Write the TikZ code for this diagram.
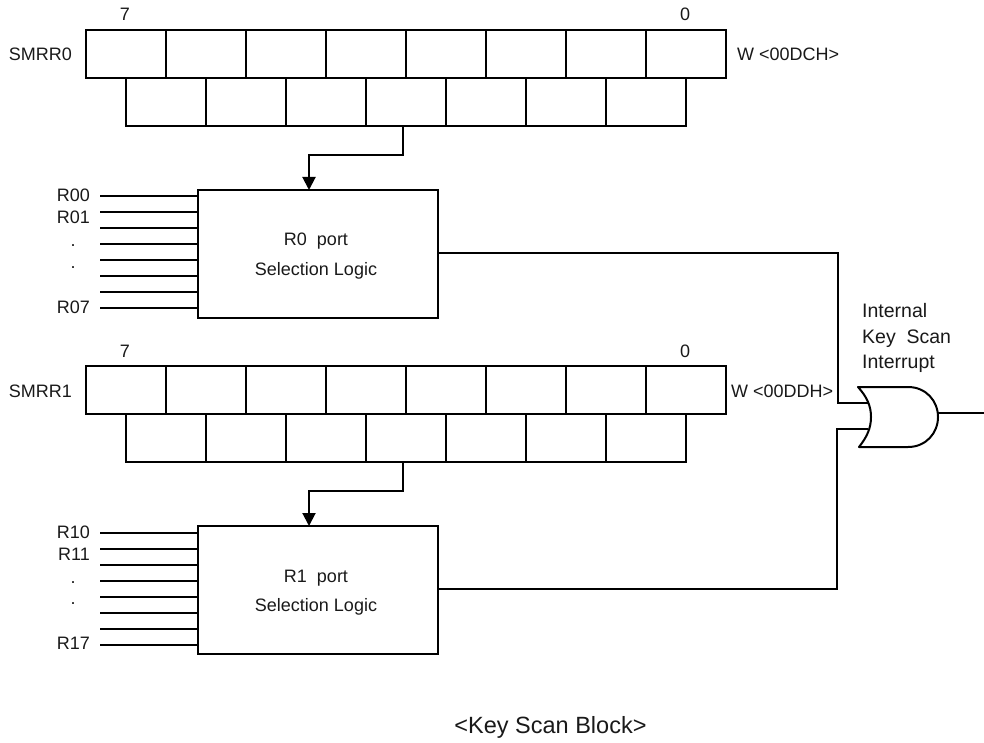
\documentclass[tikz,border=0pt]{standalone}
\usepackage{fontspec}
\setmainfont{Liberation Sans}
\usetikzlibrary{arrows.meta}
\tikzset{
  wire/.style={line width=2pt,line cap=butt,line join=miter},
  flow/.style={wire,-{Triangle[length=13pt,width=13pt]}},
  lbl/.style={inner sep=0pt,anchor=base,font=\fontsize{18}{18}\selectfont,text=black!90},
  regcell/.style={draw,line width=2pt,minimum width=80pt,minimum height=48pt,inner sep=0pt,outer sep=0pt},
  logicbox/.style={draw,line width=2pt,minimum width=240pt,minimum height=128pt,inner sep=0pt,outer sep=0pt}
}
\begin{document}
\begin{tikzpicture}[x=1pt,y=-1pt]
\useasboundingbox (0,0) rectangle (984,743);
\foreach \n/\yo/\lo in {0/0/0,1/336/337}{
  \foreach \i in {0,...,7}{
    \node[regcell] (u\n\i) at ({126+80*\i},{54+\yo}) {};
  }
  \foreach \i in {0,...,6}{
    \node[regcell] (l\n\i) at ({166+80*\i},{102+\yo}) {};
  }
  \node[lbl,anchor=base east] (name\n) at (72,{61+\yo}) {SMRR\n};
  \node[lbl] (hi\n) at (125,{21+\yo}) {7};
  \node[lbl] (lo\n) at (685,{21+\yo}) {0};
  \node[logicbox] (box\n) at (318,{254+\yo}) {};
  \node[lbl] (portname\n) at (316,{246+\yo}) {R\n\ \ port};
  \node[lbl] (portsel\n) at (316,{275+\yo}) {Selection Logic};
  \coordinate (bend\n) at (403,{155+\yo});
  \coordinate (corner\n) at (309,{155+\yo});
  \draw[flow] (l\n3.south -| bend\n) -- (bend\n) -- (corner\n) -- (corner\n |- box\n.north);
  \foreach \k in {0,...,7}{
    \coordinate (in\n\k) at (100,{196.3+16*\k+\lo});
    \draw[wire] (in\n\k) -- (in\n\k -| box\n.west);
  }
  \node[lbl,anchor=base east] (ra\n) at (90,{202+\yo}) {R\n0};
  \node[lbl,anchor=base east] (rb\n) at (90,{224+\yo}) {R\n1};
  \node[lbl] (da\n) at (73,{247+\yo}) {.};
  \node[lbl] (db\n) at (73,{268+\yo}) {.};
  \node[lbl,anchor=base east] (rc\n) at (90,{313+\yo}) {R\n7};
}
\node[lbl,anchor=base west] (addr0) at (737,61) {W <00DCH>};
\node[lbl,anchor=base west] (addr1) at (731,397) {W <00DDH>};
\node[lbl,anchor=base west,font=\fontsize{19.5}{19.5}\selectfont] (titlea) at (862,317) {Internal};
\node[lbl,anchor=base west,font=\fontsize{19.5}{19.5}\selectfont] (titleb) at (862,343) {Key\ \ Scan};
\node[lbl,anchor=base west,font=\fontsize{19.5}{19.5}\selectfont] (titlec) at (862,368) {Interrupt};
\node[lbl,font=\fontsize{23.5}{23.5}\selectfont] (cap) at (550.5,733) {<Key Scan Block>};
% OR gate
\coordinate (gtl) at (858,387);
\coordinate (gbl) at (859,447);
\draw[wire,line join=round] (gtl) .. controls (867,397) and (871,406) .. (871,417) .. controls (871,428) and (867,437) .. (gbl)
  -- (908,447) .. controls (926,447) and (938,433) .. (938,417) .. controls (938,401) and (926,387) .. (908,387) -- cycle;
\coordinate (gia) at (868,403);
\coordinate (gib) at (868,429);
\coordinate (go) at (938,413);
\coordinate (end) at (984,413);
\coordinate (ta) at (838,253);
\coordinate (tb) at (837,589);
\draw[wire] (ta -| box0.east) -- (ta) -- (ta |- gia) -- (gia);
\draw[wire] (tb -| box1.east) -- (tb) -- (tb |- gib) -- (gib);
\draw[wire] (go) -- (end);
\end{tikzpicture}
\end{document}
